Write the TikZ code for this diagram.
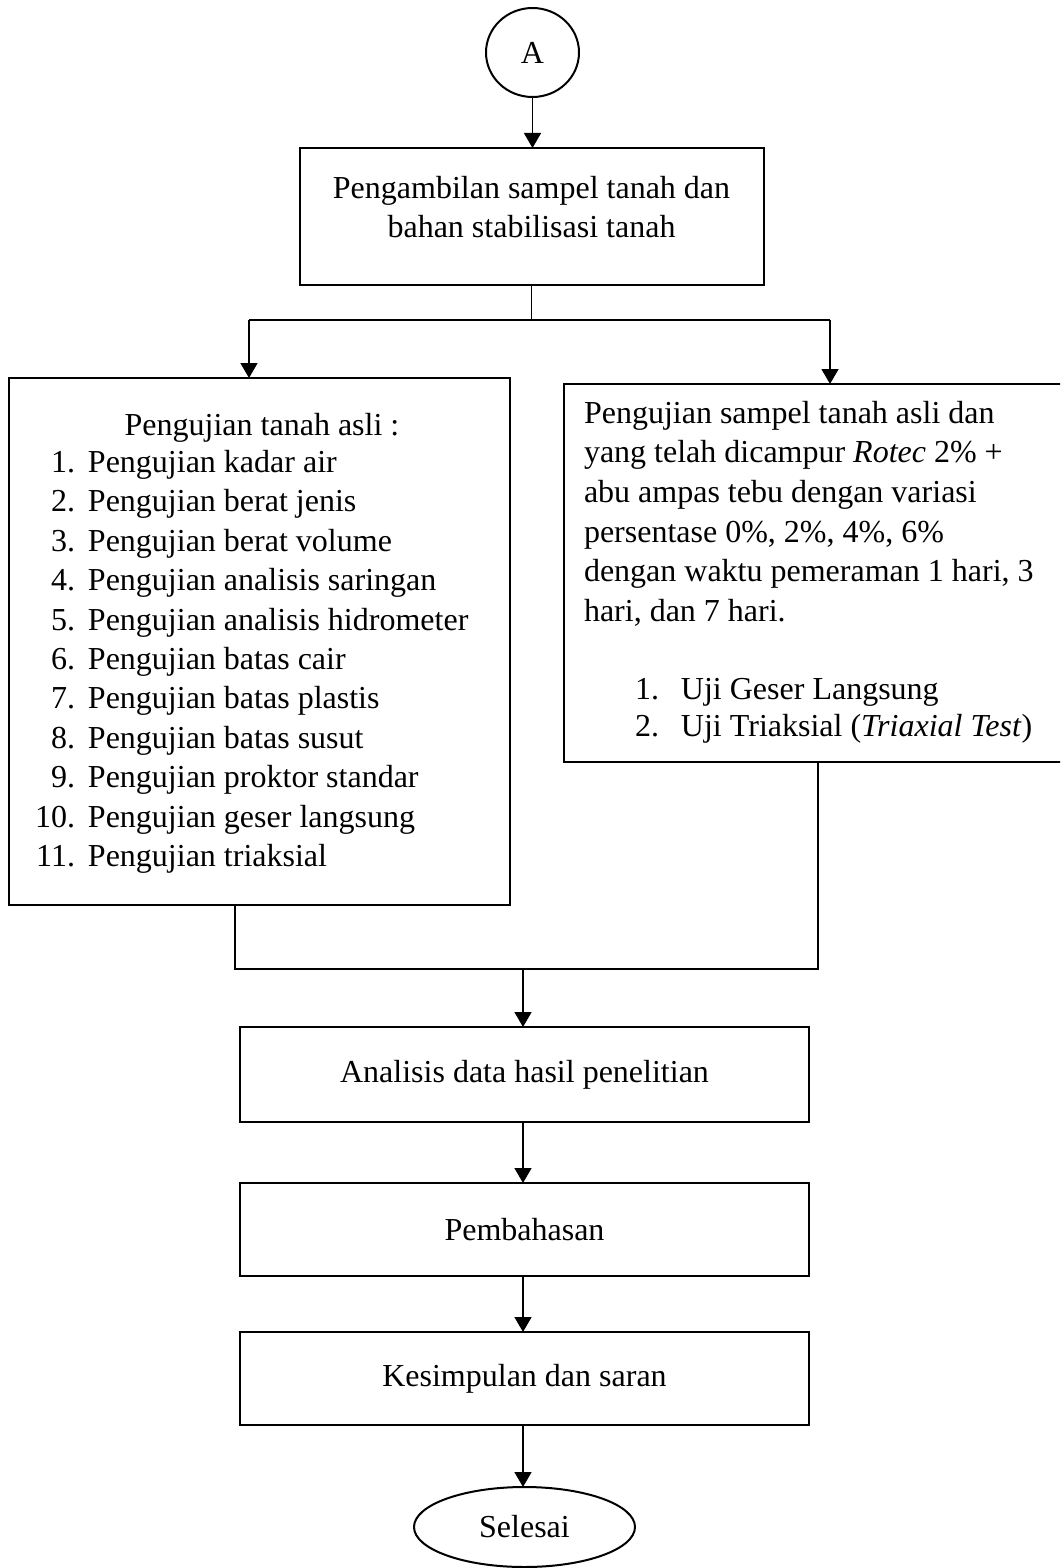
\documentclass[tikz,border=0pt]{standalone}
\usepackage{fontspec}
\setmainfont{Liberation Serif}
\usetikzlibrary{arrows.meta,shapes.geometric}
\begin{document}
\begin{tikzpicture}[x=0.5pt,y=-0.5pt,
  box/.style={draw, line width=1pt, rectangle, inner sep=0pt, outer sep=0pt, align=center, font=\fontsize{16}{19.5}\selectfont},
  oval/.style={draw, line width=1pt, ellipse, inner sep=0pt, outer sep=0pt, font=\fontsize{16}{19.5}\selectfont},
  txt/.style={inner sep=0pt, outer sep=0pt, anchor=base west},
  conn/.style={line width=0.75pt},
  arr/.style={line width=0.75pt, -{Triangle[width=8.5pt,length=7.5pt]}}]
\useasboundingbox (0,0) rectangle (1060,1568);
\clip (0,0) rectangle (1060,1568);
% nodes
\node[oval, minimum width=46.5pt, minimum height=44.5pt] (A) at (532.5,52.5) {A};
\node[box, minimum width=232pt, minimum height=68.5pt] (b1) at (531.5,216.5) {};
\node[inner sep=0pt, align=center, font=\fontsize{16}{19.5}\selectfont] (b1t) at (531.5,207) {Pengambilan sampel tanah dan\\bahan stabilisasi tanah};
\node[box, minimum width=250.5pt, minimum height=263.5pt] (L) at (259.5,641.5) {};
\node[box, minimum width=253pt, minimum height=189pt] (R) at (817,573) {};
\node[inner sep=0pt, anchor=base, font=\fontsize{16}{19.7}\selectfont] (Lt) at (262,435) {Pengujian tanah asli :};
\node[txt, font=\fontsize{16}{19.7}\selectfont] (Ll) at (35,472.5) {\begin{tabular}[t]{@{}r@{\hspace{6.5pt}}l@{}}
1. & Pengujian kadar air\\
2. & Pengujian berat jenis\\
3. & Pengujian berat volume\\
4. & Pengujian analisis saringan\\
5. & Pengujian analisis hidrometer\\
6. & Pengujian batas cair\\
7. & Pengujian batas plastis\\
8. & Pengujian batas susut\\
9. & Pengujian proktor standar\\
10. & Pengujian geser langsung\\
11. & Pengujian triaksial
\end{tabular}};
\node[txt, font=\fontsize{16}{19.85}\selectfont] (Rp) at (584,423) {\begin{tabular}[t]{@{}l@{}}
Pengujian sampel tanah asli dan\\
yang telah dicampur \textit{Rotec} 2\% +\\
abu ampas tebu dengan variasi\\
persentase 0\%, 2\%, 4\%, 6\%\\
dengan waktu pemeraman 1 hari, 3\\
hari, dan 7 hari.
\end{tabular}};
\node[txt, font=\fontsize{16}{18.5}\selectfont] (Rl) at (635,699) {\begin{tabular}[t]{@{}l@{\hspace{11pt}}l@{}}
1. & Uji Geser Langsung\\
2. & Uji Triaksial (\textit{Triaxial Test})
\end{tabular}};
\node[box, minimum width=284.5pt, minimum height=47.5pt] (an) at (524.5,1074.5) {Analisis data hasil penelitian};
\node[box, minimum width=284.5pt, minimum height=46.5pt] (pb) at (524.5,1229.5) {Pembahasan};
\node[box, minimum width=284.5pt, minimum height=46.5pt] (ks) at (524.5,1378.5) {Kesimpulan dan saran};
\node[oval, minimum width=110.5pt, minimum height=40pt] (fin) at (524.5,1527) {Selesai};
% junctions
\coordinate (j1) at (531.5,320);
\coordinate (jl) at (249,320);
\coordinate (jr) at (830,320);
\coordinate (ml) at (235,969);
\coordinate (mr) at (818,969);
\coordinate (mc) at (523,969);
% connectors
\draw[arr] (A.south) -- (A.south |- b1.north);
\draw[conn] (b1.south) -- (j1);
\draw[conn] (jl) -- (jr);
\draw[arr] (jl) -- (jl |- L.north);
\draw[arr] (jr) -- (jr |- R.north);
\draw[conn] (ml |- L.south) -- (ml) -- (mr) -- (mr |- R.south);
\draw[arr] (mc) -- (mc |- an.north);
\draw[arr] (mc |- an.south) -- (mc |- pb.north);
\draw[arr] (mc |- pb.south) -- (mc |- ks.north);
\draw[arr] (mc |- ks.south) -- (mc |- fin.north);
\end{tikzpicture}
\end{document}
